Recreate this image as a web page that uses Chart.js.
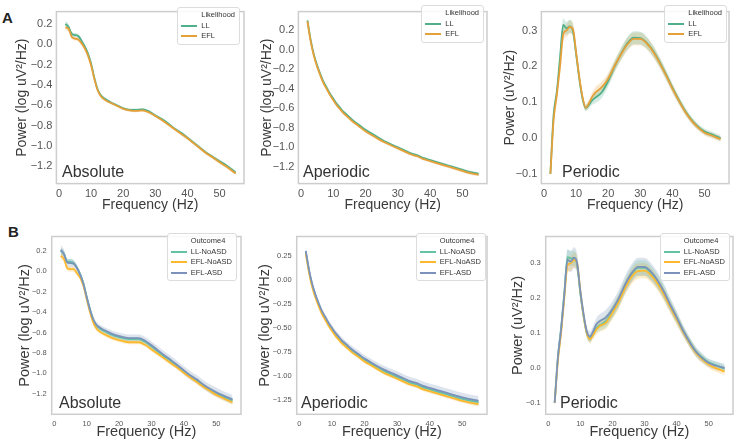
<!DOCTYPE html>
<html>
<head>
<meta charset="utf-8">
<script src="https://cdn.jsdelivr.net/npm/chart.js@4.4.1/dist/chart.umd.min.js"></script>
<style>
  body { margin: 0; background: #fff; width: 736px; height: 442px; overflow: hidden; position: relative;
         font-family: "Liberation Sans", Arial, sans-serif; }
  canvas { position: absolute; }
  .lbl { position: absolute; font-size: 16px; line-height: 16px; color: #333; white-space: nowrap; }
  .letter { position: absolute; font-weight: bold; font-size: 15px; line-height: 15px; color: #222; }
  .legend { position: absolute; border: 1px solid #dcdcdc; border-radius: 3px; background: rgba(255,255,255,0.85);
            padding: 2px 4px 2px 3px; font-size: 7.5px; line-height: 10.5px; color: #333; }
  .legend .row { display: flex; align-items: center; white-space: nowrap; height: 10.5px; }
  .legend .sw { width: 16px; height: 1.8px; margin-right: 4px; flex: none; }
</style>
</head>
<body>
<div class="letter" style="left:2px;top:10px">A</div>
<div class="letter" style="left:8px;top:224px">B</div>
<script>
// frequency grid (Hz)
const freqs = [2,3,4,5,6,7,8,9,10,11,12,13,14,15,16,18,20,22,24,26,28,30,32,34,36,38,40,42,44,46,48,50,52,55];
const xTicks = [0, 10, 20, 30, 40, 50];

// A: Likelihood groups
const absLL  = [0.20,0.17,0.10,0.09,0.08,0.035,-0.02,-0.09,-0.19,-0.33,-0.44,-0.50,-0.53,-0.55,-0.57,-0.60,-0.63,-0.645,-0.645,-0.64,-0.66,-0.70,-0.735,-0.78,-0.83,-0.87,-0.92,-0.97,-1.02,-1.07,-1.11,-1.15,-1.19,-1.26];
const absEFL = [0.165,0.15,0.07,0.055,0.045,0.01,-0.04,-0.11,-0.21,-0.34,-0.45,-0.51,-0.54,-0.56,-0.575,-0.605,-0.635,-0.65,-0.655,-0.65,-0.67,-0.705,-0.745,-0.79,-0.835,-0.88,-0.925,-0.975,-1.025,-1.075,-1.115,-1.16,-1.20,-1.27];
const ciAbsA = [0.03,0.025,0.02,0.02,0.02,0.018,0.016,0.015,0.015,0.014,0.013,0.013,0.013,0.013,0.013,0.013,0.013,0.013,0.013,0.013,0.013,0.013,0.013,0.014,0.014,0.014,0.015,0.015,0.015,0.016,0.016,0.017,0.017,0.018];

const apLL  = [0.30,0.10,-0.05,-0.16,-0.25,-0.33,-0.39,-0.45,-0.50,-0.55,-0.59,-0.63,-0.66,-0.69,-0.72,-0.77,-0.82,-0.86,-0.90,-0.94,-0.97,-1.00,-1.03,-1.06,-1.08,-1.11,-1.13,-1.15,-1.17,-1.19,-1.21,-1.23,-1.25,-1.27];
const apEFL = [0.29,0.085,-0.065,-0.175,-0.265,-0.345,-0.405,-0.465,-0.515,-0.565,-0.605,-0.645,-0.675,-0.705,-0.735,-0.785,-0.835,-0.875,-0.915,-0.95,-0.98,-1.01,-1.04,-1.07,-1.09,-1.12,-1.14,-1.16,-1.18,-1.20,-1.22,-1.24,-1.26,-1.28];
const ciApA = [0.02,0.015,0.013,0.012,0.012,0.012,0.012,0.012,0.012,0.012,0.012,0.012,0.012,0.012,0.012,0.012,0.012,0.012,0.013,0.013,0.013,0.013,0.013,0.014,0.014,0.014,0.014,0.015,0.015,0.015,0.015,0.016,0.016,0.016];

const perLL  = [-0.10,0.065,0.13,0.225,0.316,0.306,0.312,0.30,0.235,0.165,0.11,0.084,0.093,0.105,0.113,0.128,0.16,0.20,0.235,0.265,0.28,0.279,0.266,0.243,0.212,0.177,0.14,0.106,0.075,0.05,0.031,0.018,0.011,0.0];
const perEFL = [-0.10,0.05,0.12,0.20,0.29,0.30,0.31,0.305,0.24,0.17,0.115,0.085,0.097,0.115,0.127,0.142,0.166,0.202,0.234,0.262,0.277,0.277,0.264,0.241,0.21,0.175,0.138,0.104,0.073,0.048,0.029,0.015,0.008,-0.003];
const ciPerA = [0.01,0.012,0.014,0.016,0.018,0.018,0.018,0.017,0.015,0.012,0.01,0.009,0.01,0.012,0.015,0.016,0.016,0.016,0.017,0.018,0.018,0.018,0.017,0.016,0.014,0.013,0.012,0.011,0.01,0.009,0.008,0.008,0.008,0.008];

// B: Outcome4 groups
const absLLno  = [0.20,0.17,0.095,0.095,0.08,0.035,-0.03,-0.12,-0.25,-0.37,-0.47,-0.53,-0.56,-0.58,-0.595,-0.625,-0.645,-0.66,-0.665,-0.665,-0.69,-0.735,-0.785,-0.835,-0.88,-0.93,-0.98,-1.03,-1.07,-1.12,-1.16,-1.195,-1.225,-1.265];
const absEFLno = [0.15,0.12,0.03,0.02,0.02,-0.02,-0.065,-0.145,-0.275,-0.40,-0.50,-0.56,-0.59,-0.61,-0.625,-0.655,-0.675,-0.69,-0.695,-0.695,-0.72,-0.765,-0.81,-0.855,-0.90,-0.945,-0.995,-1.04,-1.085,-1.13,-1.17,-1.21,-1.24,-1.285];
const absEFLasd = [0.21,0.165,0.085,0.08,0.075,0.03,-0.035,-0.125,-0.255,-0.375,-0.47,-0.525,-0.55,-0.57,-0.585,-0.615,-0.635,-0.65,-0.655,-0.655,-0.68,-0.725,-0.775,-0.825,-0.87,-0.92,-0.97,-1.02,-1.06,-1.11,-1.15,-1.185,-1.215,-1.255];
const ciAbsB    = [0.035,0.03,0.025,0.025,0.025,0.022,0.02,0.02,0.02,0.02,0.02,0.02,0.02,0.02,0.02,0.02,0.02,0.02,0.02,0.02,0.02,0.02,0.02,0.02,0.02,0.02,0.021,0.022,0.022,0.023,0.023,0.024,0.024,0.025];
const ciAbsBasd = [0.05,0.045,0.04,0.04,0.035,0.033,0.03,0.03,0.03,0.03,0.03,0.03,0.03,0.03,0.03,0.032,0.033,0.034,0.035,0.036,0.037,0.038,0.038,0.039,0.04,0.04,0.041,0.042,0.042,0.043,0.043,0.044,0.044,0.045];

const apLLno   = [0.29,0.09,-0.06,-0.17,-0.26,-0.34,-0.40,-0.46,-0.51,-0.56,-0.60,-0.64,-0.67,-0.70,-0.73,-0.78,-0.83,-0.87,-0.91,-0.95,-0.98,-1.01,-1.04,-1.07,-1.09,-1.12,-1.14,-1.16,-1.18,-1.20,-1.22,-1.24,-1.255,-1.275];
const apEFLno  = [0.27,0.07,-0.08,-0.19,-0.28,-0.36,-0.42,-0.48,-0.53,-0.58,-0.62,-0.66,-0.69,-0.72,-0.75,-0.80,-0.85,-0.89,-0.93,-0.97,-1.00,-1.03,-1.06,-1.09,-1.11,-1.14,-1.16,-1.18,-1.20,-1.22,-1.24,-1.26,-1.275,-1.295];
const apEFLasd = [0.30,0.10,-0.05,-0.16,-0.25,-0.33,-0.39,-0.45,-0.50,-0.55,-0.59,-0.63,-0.66,-0.69,-0.72,-0.77,-0.82,-0.86,-0.90,-0.935,-0.965,-0.995,-1.025,-1.055,-1.075,-1.105,-1.125,-1.145,-1.165,-1.185,-1.205,-1.225,-1.24,-1.26];
const ciApB    = [0.03,0.025,0.02,0.018,0.017,0.017,0.017,0.017,0.017,0.017,0.017,0.017,0.017,0.017,0.017,0.017,0.018,0.018,0.018,0.018,0.018,0.019,0.019,0.019,0.019,0.02,0.02,0.02,0.02,0.021,0.021,0.021,0.022,0.022];
const ciApBasd = [0.045,0.04,0.035,0.033,0.032,0.032,0.032,0.032,0.032,0.033,0.033,0.034,0.034,0.035,0.035,0.036,0.037,0.038,0.039,0.04,0.041,0.042,0.043,0.043,0.044,0.045,0.045,0.046,0.046,0.047,0.047,0.048,0.048,0.05];

const perLLno   = [-0.10,0.03,0.115,0.215,0.318,0.314,0.315,0.296,0.214,0.149,0.10,0.085,0.099,0.115,0.122,0.134,0.162,0.195,0.237,0.269,0.287,0.287,0.273,0.25,0.218,0.18,0.145,0.108,0.076,0.048,0.03,0.016,0.009,-0.002];
const perEFLno  = [-0.10,0.02,0.10,0.20,0.295,0.30,0.31,0.30,0.22,0.15,0.10,0.082,0.095,0.11,0.12,0.13,0.158,0.19,0.23,0.262,0.278,0.279,0.266,0.243,0.212,0.175,0.14,0.104,0.072,0.044,0.025,0.01,0.0,-0.01];
const perEFLasd = [-0.10,0.03,0.11,0.21,0.31,0.305,0.316,0.30,0.22,0.155,0.105,0.09,0.105,0.125,0.134,0.145,0.168,0.20,0.24,0.272,0.29,0.29,0.276,0.252,0.22,0.182,0.146,0.108,0.075,0.047,0.028,0.014,0.007,0.0];
const ciPerB    = [0.01,0.015,0.018,0.02,0.022,0.022,0.022,0.02,0.018,0.015,0.012,0.011,0.012,0.014,0.016,0.018,0.019,0.02,0.021,0.022,0.022,0.022,0.021,0.02,0.019,0.017,0.016,0.014,0.013,0.012,0.011,0.01,0.01,0.01];
const ciPerBasd = [0.015,0.02,0.025,0.028,0.03,0.03,0.03,0.028,0.025,0.02,0.016,0.015,0.016,0.018,0.02,0.022,0.023,0.024,0.025,0.026,0.026,0.026,0.025,0.024,0.022,0.02,0.018,0.016,0.015,0.014,0.013,0.012,0.012,0.012];

// y tick labels
const ticksLog  = [-1.2, -1.0, -0.8, -0.6, -0.4, -0.2, 0.0, 0.2];
const ticksLogB = [-1.25, -1.0, -0.75, -0.5, -0.25, 0.0, 0.25];
const ticksPer  = [-0.1, 0.0, 0.1, 0.2, 0.3];

const C = {
  LL: '#4fb08a', EFL: '#e6a03a',
  LLno: '#66c2a5', EFLno: '#fdb92e', EFLasd: '#7b93ba'
};

const serA = (a, b, ci) => [
  { name: 'LL', color: C.LL, y: a, ci: ci },
  { name: 'EFL', color: C.EFL, y: b, ci: ci }
];
const serB = (a, b, c, ci, ciAsd) => [
  { name: 'LL-NoASD', color: C.LLno, y: a, ci: ci },
  { name: 'EFL-NoASD', color: C.EFLno, y: b, ci: ci },
  { name: 'EFL-ASD', color: C.EFLasd, y: c, ci: ciAsd }
];

const yLog = 'Power (log uV²/Hz)';
const yLin = 'Power (uV²/Hz)';

const panels = [
  { frame: [56, 3, 244, 184], yGap: 34, row: 'A', yTitle: yLog, yMin: -1.37, yMax: 0.32, ticks: ticksLog, dec: 1,
    label: 'Absolute', labelAt: [62, 172], legend: { title: 'Likelihood', right: 240, top: 7 }, series: serA(absLL, absEFL, ciAbsA) },
  { frame: [298, 3, 487, 184], yGap: 31, row: 'A', yTitle: yLog, yMin: -1.37, yMax: 0.39, ticks: ticksLog, dec: 1,
    label: 'Aperiodic', labelAt: [303, 172], legend: { title: 'Likelihood', right: 484, top: 5 }, series: serA(apLL, apEFL, ciApA) },
  { frame: [541, 3, 729, 184], yGap: 31, row: 'A', yTitle: yLin, yMin: -0.127, yMax: 0.353, ticks: ticksPer, dec: 1,
    label: 'Periodic', labelAt: [562, 172], legend: { title: 'Likelihood', right: 727, top: 5 }, series: serA(perLL, perEFL, ciPerA) },
  { frame: [52, 229, 241, 414], yGap: 27, row: 'B', yTitle: yLog, yMin: -1.40, yMax: 0.34, ticks: ticksLog, dec: 1,
    label: 'Absolute', labelAt: [59, 403], legend: { title: 'Outcome4', right: 237, top: 233 }, series: serB(absLLno, absEFLno, absEFLasd, ciAbsB, ciAbsBasd) },
  { frame: [297, 229, 487, 414], yGap: 32, row: 'B', yTitle: yLog, yMin: -1.40, yMax: 0.45, ticks: ticksLogB, dec: 2,
    label: 'Aperiodic', labelAt: [301, 403], legend: { title: 'Outcome4', right: 486, top: 233 }, series: serB(apLLno, apEFLno, apEFLasd, ciApB, ciApBasd) },
  { frame: [546, 229, 733, 414], yGap: 28, row: 'B', yTitle: yLin, yMin: -0.133, yMax: 0.377, ticks: ticksPer, dec: 1,
    label: 'Periodic', labelAt: [560, 403], legend: { title: 'Outcome4', right: 730, top: 233 }, series: serB(perLLno, perEFLno, perEFLasd, ciPerB, ciPerBasd) }
];

const rowStyle = {
  A: { tickFont: 11, titleFont: 14, xGap: 22, xPad: 4, yPad: 4 },
  B: { tickFont: 7.5, titleFont: 14.5, xGap: 18, xPad: 5, yPad: 5 }
};

function rgba(hex, a) {
  const n = parseInt(hex.slice(1), 16);
  return `rgba(${n >> 16},${(n >> 8) & 255},${n & 255},${a})`;
}

function fmt(v, dec) {
  const s = Math.abs(v).toFixed(dec);
  return (v < 0 && Number(s) !== 0 ? '\u2212' : '') + s;
}

const framePlugin = {
  id: 'frame',
  afterDraw(chart) {
    const { ctx, chartArea: a } = chart;
    ctx.save();
    ctx.strokeStyle = '#cdcdcd';
    ctx.lineWidth = 1.5;
    ctx.strokeRect(a.left, a.top, a.right - a.left, a.bottom - a.top);
    ctx.restore();
  }
};

function buildDatasets(series) {
  const sets = [];
  const n = series.length;
  series.forEach((s, k) => {
    sets.push({
      data: freqs.map((f, i) => ({ x: f, y: s.y[i] })),
      borderColor: s.color, borderWidth: 1.8, pointRadius: 0, fill: false,
      cubicInterpolationMode: 'monotone', order: n - k
    });
  });
  series.forEach(s => {
    sets.push({
      data: freqs.map((f, i) => ({ x: f, y: s.y[i] + s.ci[i] })),
      borderWidth: 0, pointRadius: 0, fill: '+1', backgroundColor: rgba(s.color, 0.25),
      cubicInterpolationMode: 'monotone', order: 20
    });
    sets.push({
      data: freqs.map((f, i) => ({ x: f, y: s.y[i] - s.ci[i] })),
      borderWidth: 0, pointRadius: 0, fill: false,
      cubicInterpolationMode: 'monotone', order: 20
    });
  });
  return sets;
}

function makePanel(p) {
  const st = rowStyle[p.row];
  const [l, t, r, b] = p.frame;
  const padTop = 2, padRight = 3;
  const wy = p.yGap + st.titleFont * 0.6;
  const hx = st.xGap + st.titleFont * 0.6;
  const canvas = document.createElement('canvas');
  canvas.width = Math.round(r - l + wy + padRight);
  canvas.height = Math.round(b - t + padTop + hx);
  canvas.style.left = (l - wy) + 'px';
  canvas.style.top = (t - padTop) + 'px';
  document.body.appendChild(canvas);

  const tickFont = { family: '"Liberation Sans", Arial, sans-serif', size: st.tickFont };
  const titleFont = { family: '"Liberation Sans", Arial, sans-serif', size: st.titleFont };

  new Chart(canvas, {
    type: 'line',
    data: { datasets: buildDatasets(p.series) },
    options: {
      responsive: false, animation: false, devicePixelRatio: 1, events: [],
      layout: { padding: { top: padTop, right: padRight, left: 0, bottom: 0 } },
      plugins: { legend: { display: false }, tooltip: { enabled: false } },
      scales: {
        x: {
          type: 'linear', min: -0.8, max: 57.6,
          grid: { display: false, drawTicks: false }, border: { display: false },
          afterBuildTicks: s => { s.ticks = xTicks.map(v => ({ value: v })); },
          afterFit: s => { s.height = hx; },
          ticks: { color: '#555', font: tickFont, padding: st.xPad, maxRotation: 0, callback: v => String(v) },
          title: { display: true, text: 'Frequency (Hz)', color: '#3a3a3a', font: titleFont, padding: 0 }
        },
        y: {
          min: p.yMin, max: p.yMax,
          grid: { display: false, drawTicks: false }, border: { display: false },
          afterBuildTicks: s => { s.ticks = p.ticks.map(v => ({ value: v })); },
          afterFit: s => { s.width = wy; },
          ticks: { color: '#555', font: tickFont, padding: st.yPad, callback: v => fmt(v, p.dec) },
          title: { display: true, text: p.yTitle, color: '#3a3a3a', font: titleFont, padding: 0 }
        }
      }
    },
    plugins: [framePlugin]
  });

  // panel name inside the axes
  const lbl = document.createElement('div');
  lbl.className = 'lbl';
  lbl.textContent = p.label;
  lbl.style.left = p.labelAt[0] + 'px';
  lbl.style.top = (p.labelAt[1] - 8) + 'px';
  document.body.appendChild(lbl);

  // legend box (hue title is drawn as an entry without handle, like seaborn)
  const lg = document.createElement('div');
  lg.className = 'legend';
  lg.style.right = (736 - p.legend.right) + 'px';
  lg.style.top = p.legend.top + 'px';
  let html = `<div class="row"><span class="sw"></span>${p.legend.title}</div>`;
  p.series.forEach(s => {
    html += `<div class="row"><span class="sw" style="background:${s.color}"></span>${s.name}</div>`;
  });
  lg.innerHTML = html;
  document.body.appendChild(lg);
}

panels.forEach(makePanel);
</script>
</body>
</html>
